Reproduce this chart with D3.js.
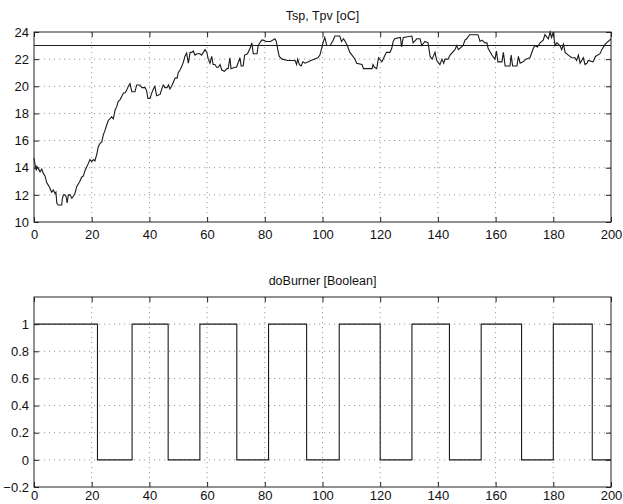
<!DOCTYPE html>
<html>
<head>
<meta charset="utf-8">
<script src="https://cdn.jsdelivr.net/npm/d3@7"></script>
<style>
  body { margin: 0; background: #fff; }
  svg { font-family: "Liberation Sans", Arial, Helvetica, sans-serif; }
  .frame { fill: none; stroke: #222; stroke-width: 1; }
  .grid line { stroke: #9a9a9a; stroke-width: 1; stroke-dasharray: 1.2,3.8; }
  .axis path { display: none; }
  .axis line { stroke: #222; }
  .axis text { fill: #111; font-size: 13px; }
  .title { fill: #111; font-size: 12.5px; text-anchor: middle; }
  .trace { fill: none; stroke: #1a1a1a; stroke-width: 1.1; }
</style>
</head>
<body>
<div id="vis"></div>
<script>
const FRAME_WIDTH = 623;
const FRAME_HEIGHT = 504;

// top plot: Tsp (setpoint) and Tpv (process value)
const spTime = [0, 200];
const spValue = [23, 23];

const tpvTime = [0, 0.4, 0.8, 1.0, 1.5, 2.1, 2.7, 3.2, 3.8, 4.4, 5.0, 5.5, 6.1, 6.7, 7.3, 7.6, 7.9, 8.4, 9.6, 9.8,
  10.2, 10.7, 11.1, 11.5, 11.9, 12.5, 13.1, 13.6, 14.2, 14.8, 15.9, 16.5, 17.1, 17.7, 18.8, 19.4, 20.0, 20.6, 21.1, 21.7,
  22.3, 22.9, 23.5, 24.0, 24.6, 25.2, 25.8, 26.3, 26.9, 27.5, 28.1, 28.7, 29.2, 29.8, 30.4, 31.0, 31.5, 32.1, 32.7, 33.3,
  33.9, 35.0, 35.6, 36.7, 37.4, 38.5, 39.0, 39.5, 40.2, 40.5, 40.8, 41.5, 41.9, 42.5, 43.7, 44.3, 44.8, 45.4, 46.1, 46.6,
  47.1, 47.7, 48.3, 48.9, 49.6, 50.0, 50.6, 51.2, 51.8, 52.3, 52.9, 53.5, 54.1, 54.7, 55.2, 55.8, 56.4, 57.5, 58.1, 58.7,
  59.3, 59.9, 60.4, 61.0, 61.6, 62.1, 62.7, 63.3, 63.9, 64.5, 65.1, 66.0, 66.9, 67.3, 67.9, 68.3, 69.6, 70.2, 71.4, 71.8,
  72.5, 73.0, 74.0, 74.9, 75.5, 76.0, 77.3, 77.7, 78.9, 79.5, 80.5, 82.0, 83.5, 84.0, 84.5, 85.0, 86.0, 88.0, 90.5, 91.0,
  91.4, 92.0, 92.6, 93.2, 94.0, 96.0, 98.4, 99.1, 100.3, 100.8, 101.5, 102.6, 103.5, 104.3, 106.0, 106.6, 107.3, 108.4, 109.5, 111.3,
  111.8, 113.7, 114.2, 117.2, 117.5, 118.0, 118.8, 119.4, 120.6, 121.7, 122.2, 123.4, 124.0, 124.5, 125.0, 127.0, 127.4, 128.0, 131.0, 131.4,
  132.7, 133.8, 134.4, 135.5, 136.6, 137.3, 138.0, 139.0, 139.6, 140.7, 141.4, 142.0, 142.5, 143.5, 144.2, 145.9, 146.5, 147.1, 148.7, 149.4,
  150.0, 151.0, 153.9, 154.6, 155.3, 156.3, 157.0, 157.4, 158.7, 159.8, 160.3, 160.8, 162.2, 162.7, 163.3, 165.0, 165.4, 165.9, 167.4, 167.9,
  168.5, 169.5, 170.5, 171.9, 173.1, 173.6, 174.5, 175.4, 176.5, 177.1, 178.3, 178.9, 179.4, 180.0, 180.6, 181.2, 182.3, 182.9, 183.5, 184.1,
  185.2, 186.4, 187.5, 188.1, 188.7, 189.3, 190.4, 191.0, 191.7, 192.1, 193.8, 194.6, 196.2, 196.8, 198.0, 200];

const tpvValue = [14.7, 14.2, 13.8, 14.1, 13.95, 13.7, 13.9, 13.6, 13.4, 12.9, 12.7, 12.5, 12.2, 12.35, 12.1, 12.2, 11.4, 11.25, 11.25, 11.7,
  12.0, 12.0, 11.9, 11.4, 12.0, 12.0, 11.75, 11.9, 12.1, 12.6, 13.0, 13.3, 13.4, 13.8, 14.3, 14.6, 14.45, 14.6, 14.5, 14.95,
  15.55, 15.8, 15.9, 16.4, 16.75, 17.15, 17.5, 17.6, 17.75, 17.6, 18.25, 18.5, 18.9, 19.0, 19.25, 19.5, 19.5, 19.7, 20.0, 20.2,
  19.6, 19.6, 20.1, 20.1, 19.9, 19.9, 19.7, 19.1, 19.1, 19.3, 19.5, 19.85, 20.0, 19.3, 19.4, 19.8, 20.1, 19.9, 19.9, 20.1,
  19.8, 20.0, 20.3, 20.6, 20.6, 21.0, 21.2, 21.45, 21.8, 22.2, 22.45, 21.7, 22.5, 22.5, 22.6, 22.3, 22.4, 22.4, 22.3, 22.5,
  22.7, 22.5, 22.0, 21.7, 22.2, 21.6, 21.6, 21.4, 21.4, 21.6, 21.2, 21.1, 21.3, 21.3, 22.1, 21.3, 21.4, 21.4, 22.1, 21.5,
  21.5, 22.3, 22.4, 22.8, 23.2, 22.4, 22.4, 23.0, 23.4, 23.4, 23.3, 23.3, 23.5, 23.3, 22.7, 22.2, 22.0, 21.9, 21.9, 21.6,
  22.0, 21.6, 21.5, 21.8, 21.7, 21.9, 22.1, 22.3, 23.3, 23.6, 23.0, 23.0, 23.3, 23.7, 23.7, 23.3, 23.5, 23.1, 22.5, 22.0,
  21.7, 21.6, 21.3, 21.3, 21.6, 21.4, 21.3, 22.1, 21.8, 22.3, 22.5, 22.5, 22.8, 23.3, 23.5, 23.6, 22.9, 23.6, 23.7, 23.2,
  23.5, 23.5, 23.0, 23.3, 23.2, 22.2, 22.0, 22.5, 21.9, 21.6, 22.0, 21.7, 22.0, 22.0, 22.3, 22.7, 23.0, 22.7, 23.0, 23.4,
  23.5, 23.8, 23.8, 23.3, 23.4, 23.2, 23.2, 22.8, 22.3, 22.0, 22.6, 21.8, 21.8, 22.5, 21.5, 21.5, 22.3, 21.5, 21.5, 22.2,
  21.7, 21.8, 22.0, 22.1, 22.8, 23.0, 22.9, 23.2, 23.4, 23.8, 23.5, 24.0, 23.6, 24.0, 23.0, 23.2, 23.0, 22.7, 23.1, 22.5,
  22.3, 22.1, 22.1, 21.9, 22.3, 21.7, 22.1, 21.6, 21.7, 21.9, 21.8, 22.2, 22.4, 22.7, 23.1, 23.5];

const tempTicks = [10, 12, 14, 16, 18, 20, 22, 24];

// bottom plot: burner on/off switching instants
const burnerTime = [0, 22, 34, 46.5, 57.5, 70.3, 81.3, 94.5, 105.8, 120, 131, 144, 155, 169, 180, 193.5, 200];
const burnerValue = [1, 0, 1, 0, 1, 0, 1, 0, 1, 0, 1, 0, 1, 0, 1, 0, 0];
const burnerTicks = [-0.2, 0, 0.2, 0.4, 0.6, 0.8, 1];

const timeTicks = [0, 20, 40, 60, 80, 100, 120, 140, 160, 180, 200];

const MARGINS = {left: 34, right: 12};
const VIS_WIDTH = FRAME_WIDTH - MARGINS.left - MARGINS.right;

const SVG = d3.select("#vis")
  .append("svg")
    .attr("width", FRAME_WIDTH)
    .attr("height", FRAME_HEIGHT);

const X_SCALE = d3.scaleLinear()
  .domain([0, 200])
  .range([0, VIS_WIDTH]);

const fmt = d3.format("~g");

function drawPanel(top, height, yDomain, yTicks, title, series, xPad) {
  const g = SVG.append("g")
    .attr("transform", "translate(" + MARGINS.left + "," + top + ")");

  const yScale = d3.scaleLinear().domain(yDomain).range([height, 0]);

  // dotted grid
  g.append("g").attr("class", "grid")
    .selectAll("line")
    .data(timeTicks.filter(d => d > 0 && d < 200))
    .enter().append("line")
      .attr("x1", d => X_SCALE(d)).attr("x2", d => X_SCALE(d))
      .attr("y1", 0).attr("y2", height);

  g.append("g").attr("class", "grid")
    .selectAll("line")
    .data(yTicks.filter(d => d > yDomain[0] && d < yDomain[1]))
    .enter().append("line")
      .attr("x1", 0).attr("x2", VIS_WIDTH)
      .attr("y1", d => yScale(d)).attr("y2", d => yScale(d));

  // axes with inward ticks on all four sides
  g.append("g").attr("class", "axis")
    .attr("transform", "translate(0," + height + ")")
    .call(d3.axisBottom(X_SCALE).tickValues(timeTicks).tickSize(-5).tickPadding(xPad));

  g.append("g").attr("class", "axis")
    .call(d3.axisTop(X_SCALE).tickValues(timeTicks).tickSize(-5).tickFormat(""));

  g.append("g").attr("class", "axis")
    .call(d3.axisLeft(yScale).tickValues(yTicks).tickSize(-5).tickPadding(5).tickFormat(fmt));

  g.append("g").attr("class", "axis")
    .attr("transform", "translate(" + VIS_WIDTH + ",0)")
    .call(d3.axisRight(yScale).tickValues(yTicks).tickSize(-5).tickFormat(""));

  series.forEach(s => {
    const pts = s.x.map((d, i) => [d, s.y[i]]);
    g.append("path")
      .datum(pts)
      .attr("class", "trace")
      .attr("d", d3.line()
        .x(d => X_SCALE(d[0]))
        .y(d => yScale(d[1]))
        .curve(s.curve || d3.curveLinear));
  });

  g.append("rect")
    .attr("class", "frame")
    .attr("x", 0).attr("y", 0)
    .attr("width", VIS_WIDTH).attr("height", height);

  SVG.append("text")
    .attr("class", "title")
    .attr("x", MARGINS.left + VIS_WIDTH / 2)
    .attr("y", top - 12)
    .text(title);
}

drawPanel(32, 190, [10, 24], tempTicks, "Tsp, Tpv [oC]", [
  {x: spTime, y: spValue},
  {x: tpvTime, y: tpvValue}
], 8);

drawPanel(297, 190, [-0.2, 1.2], burnerTicks, "doBurner [Boolean]", [
  {x: burnerTime, y: burnerValue, curve: d3.curveStepAfter}
], 4);
</script>
</body>
</html>
